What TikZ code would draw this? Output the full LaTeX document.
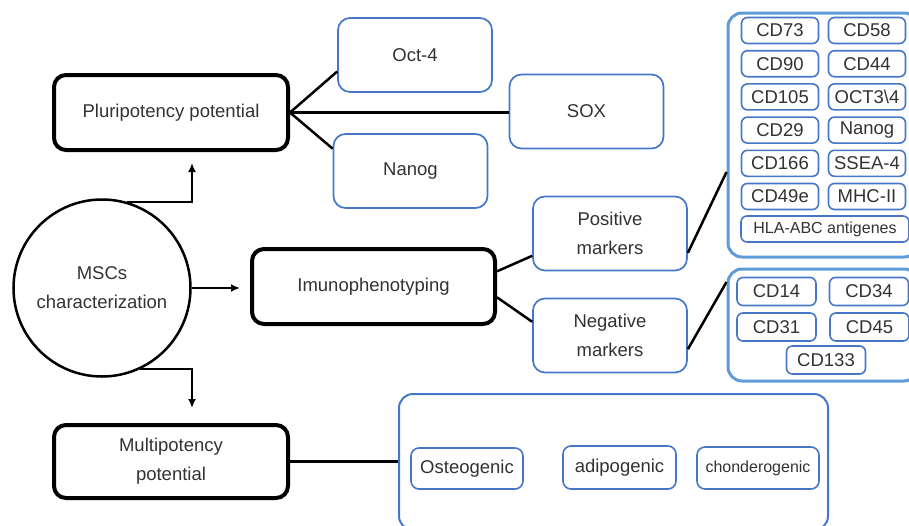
\documentclass[tikz,border=0pt]{standalone}
\usepackage{fontspec}
\setmainfont{Liberation Sans}
\usetikzlibrary{arrows.meta}

\definecolor{boxblue}{RGB}{70,118,200}
\definecolor{groupblue}{RGB}{95,155,215}
\definecolor{txtgray}{RGB}{50,50,50}

\tikzset{
    every node/.style={font=\fontsize{18.5}{29}\selectfont, text=txtgray, align=center},
    mainbox/.style={draw=black, line width=4pt, rounded corners=12pt,
        minimum width=234pt, minimum height=75pt},
    subbox/.style={draw=boxblue, line width=1.7pt, rounded corners=12pt,
        minimum width=154pt, minimum height=74pt},
    groupbox/.style={draw=groupblue, line width=3pt, rounded corners=14pt},
    markbox/.style={draw=boxblue, line width=1.6pt, rounded corners=6pt,
        minimum width=77pt, minimum height=26pt, inner sep=0pt},
    link/.style={line width=2.5pt},
    arr/.style={line width=2.2pt, -{Latex[length=9pt,width=8pt]}},
}

\begin{document}
\begin{tikzpicture}[x=1pt,y=-1pt]

    \useasboundingbox (0,0) rectangle (909,525);

    % main boxes
    \node[circle, draw=black, line width=2.5pt, minimum size=177pt, inner sep=0pt]
        (msc) at (102,288) {MSCs\\characterization};
    \node[mainbox] (pluri) at (171,112.5) {Pluripotency potential};
    \node[mainbox, minimum width=243pt] (immuno) at (373.5,286.5) {Imunophenotyping};
    \node[mainbox, minimum height=73pt] (multi) at (171,461.5) {Multipotency\\potential};

    % pluripotency
    \node[subbox] (oct) at (415,55) {Oct-4};
    \node[subbox] (sox) at (586.5,111.5) {SOX};
    \node[subbox] (nanog) at (410.5,171) {Nanog};

    \draw[link] (pluri.east) -- (oct.192);
    \draw[link] (pluri.east) -- (pluri.east -| sox.west);
    \draw[link] (pluri.east) -- (nanog.164);

    % imunophenotyping
    \node[subbox] (pos) at (610,233.5) {Positive\\markers};
    \node[subbox] (neg) at (610,335.5) {Negative\\markers};

    \draw[link] (immuno.7) -- (pos.196);
    \draw[link] (immuno.-5) -- (neg.170);

    \node[groupbox, minimum width=190pt, minimum height=244pt] (posgroup) at (823,135) {};
    \node[groupbox, minimum width=190pt, minimum height=112pt] (neggroup) at (823,325) {};

    \foreach \a/\b [count=\i] in {CD73/CD58, CD90/CD44, CD105/{OCT3{\textbackslash}4},
        CD29/Nanog, CD166/SSEA-4, CD49e/MHC-II} {
        \node[markbox] (pl\i) at (780, 30.5+33.2*\i-33.2) {\a};
        \node[markbox] (pr\i) at (867, 30.5+33.2*\i-33.2) {\b};
    }
    \node[markbox, minimum width=168pt, font=\fontsize{16}{20}\selectfont] (hla) at (825,229) {HLA-ABC antigenes};

    \node[markbox, minimum width=79pt, minimum height=28pt] (cd14) at (776.5,291.5) {CD14};
    \node[markbox, minimum width=79pt, minimum height=28pt] (cd34) at (869,291.5) {CD34};
    \node[markbox, minimum width=79pt, minimum height=28pt] (cd31) at (776.5,327) {CD31};
    \node[markbox, minimum width=79pt, minimum height=28pt] (cd45) at (869.5,327) {CD45};
    \node[markbox, minimum width=79pt, minimum height=28pt] (cd133) at (826,360) {CD133};

    \draw[link] (pos.-14) -- ([yshift=-37pt]posgroup.west);
    \draw[link] (neg.-10) -- ([yshift=43pt]neggroup.west);

    % multipotency
    \node[groupbox, draw=boxblue, line width=2pt, minimum width=429pt, minimum height=136pt]
        (multigroup) at (613.5,462) {};
    \node[markbox, rounded corners=8pt, minimum width=112pt, minimum height=41pt] (osteo) at (467,468.5) {Osteogenic};
    \node[markbox, rounded corners=8pt, minimum width=113pt, minimum height=43pt] (adipo) at (619.5,467.5) {adipogenic};
    \node[markbox, rounded corners=8pt, minimum width=122pt, minimum height=42pt,
        font=\fontsize{16}{20}\selectfont] (chondro) at (758,468) {chonderogenic};

    \draw[link] (multi.east) -- (multi.east -| multigroup.west);

    % arrows
    \draw[arr] (msc.74) -| ([xshift=21pt,yshift=-11pt]pluri.south);
    \draw[arr] (msc.east) -- ([xshift=-10pt]msc.east -| immuno.west);
    \draw[arr] (msc.-65) -| ([xshift=21pt,yshift=15pt]multi.north);

\end{tikzpicture}
\end{document}
